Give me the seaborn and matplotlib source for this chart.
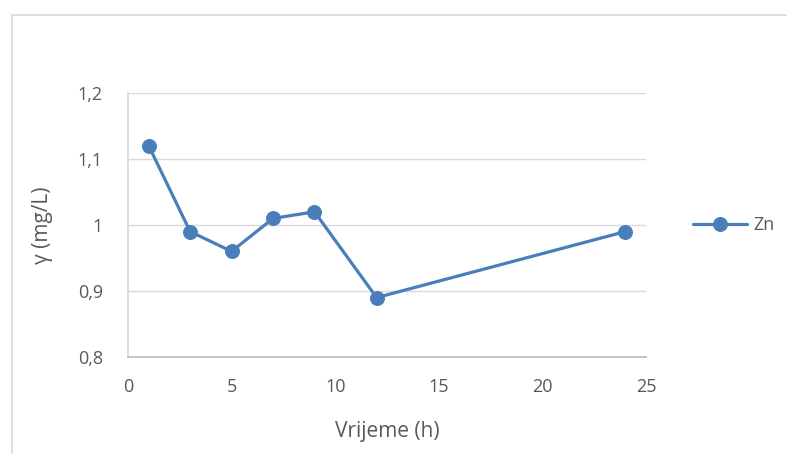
import matplotlib
matplotlib.use("Agg")
import matplotlib.pyplot as plt
import seaborn as sns
import pandas as pd
from matplotlib.patches import Rectangle
from matplotlib.ticker import FuncFormatter, MultipleLocator

# data
time_h = [1, 3, 5, 7, 9, 12, 24]
zn = [1.12, 0.99, 0.96, 1.01, 1.02, 0.89, 0.99]

df = pd.DataFrame({"Vrijeme (h)": time_h, "Zn": zn})

sns.set_theme(style="white")
plt.rcParams['font.family'] = ['Open Sans', 'DejaVu Sans']

blue = "#4a7ebb"
txt = "#595959"

fig = plt.figure(figsize=(7.87, 4.54), dpi=100)
ax = fig.add_axes([128 / 787, 1 - 357 / 454, (646 - 128) / 787, (357 - 93) / 454])

sns.lineplot(data=df, x="Vrijeme (h)", y="Zn", ax=ax, color=blue, lw=2.3,
             marker="o", markersize=10, markeredgecolor=blue, label="Zn")

ax.set_xlim(0, 25)
ax.set_ylim(0.8, 1.2)
ax.xaxis.set_major_locator(MultipleLocator(5))
ax.yaxis.set_major_locator(MultipleLocator(0.1))
ax.yaxis.set_major_formatter(FuncFormatter(
    lambda v, p: ("%.1f" % v).rstrip("0").rstrip(".").replace(".", ",")))
ax.grid(axis="y", color="#d9d9d9", lw=1)
ax.tick_params(axis="both", length=0, labelsize=13, labelcolor=txt)
ax.tick_params(axis="y", pad=18)
ax.tick_params(axis="x", pad=15)
for s in ["top", "right"]:
    ax.spines[s].set_visible(False)
ax.spines["left"].set_color("#d9d9d9")
ax.spines["bottom"].set_color("#bfbfbf")

ax.set_xlabel("Vrijeme (h)", fontsize=15, color=txt, labelpad=18)
ax.set_ylabel("γ (mg/L)", fontsize=15, color=txt, labelpad=18)

leg = ax.legend(loc="center left", bbox_to_anchor=(1.06, 0.5), frameon=False,
                fontsize=13, handlelength=3.0, handletextpad=0.3)
for t in leg.get_texts():
    t.set_color(txt)

# light chart border like the Excel frame
fig.patches.append(Rectangle((12 / 787, -0.1), 1.2, 1 - 15 / 454 + 0.1,
                             transform=fig.transFigure, fill=False,
                             edgecolor="#d9d9d9", lw=1.2))

plt.savefig("out.png", dpi=100)
plt.close()
